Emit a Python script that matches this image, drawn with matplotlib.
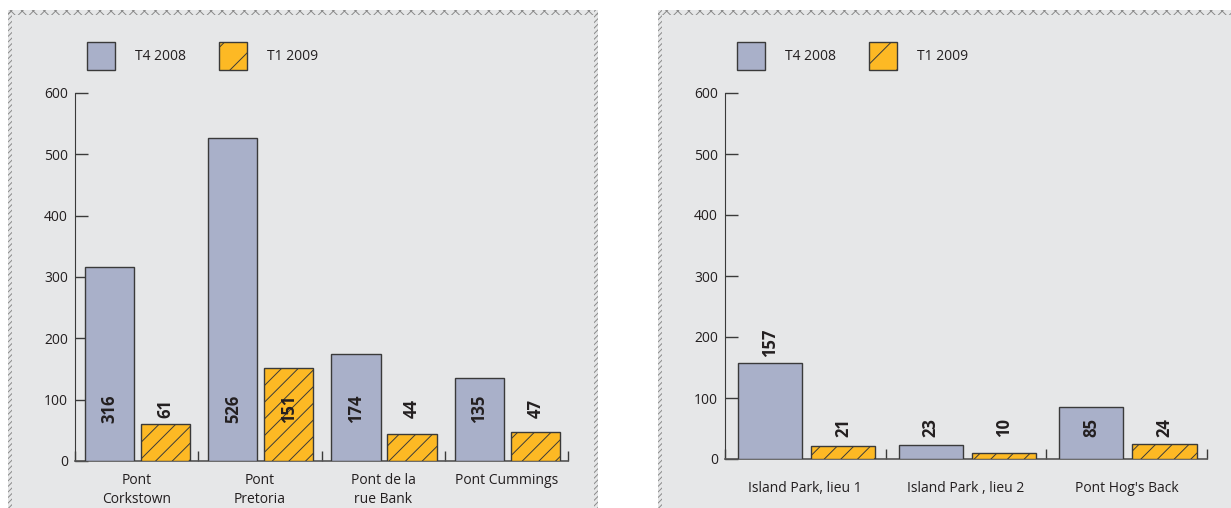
import numpy as np
import matplotlib.pyplot as plt
from matplotlib.patches import Rectangle, Patch

plt.rcParams['font.family'] = ['Open Sans', 'DejaVu Sans']
plt.rcParams['hatch.linewidth'] = 0.7

# data
cats_left = ['Pont\nCorkstown', 'Pont\nPretoria', 'Pont de la\nrue Bank', 'Pont Cummings']
t4_left = [316, 526, 174, 135]
t1_left = [61, 151, 44, 47]

cats_right = ['Island Park, lieu 1', 'Island Park , lieu 2', "Pont Hog's Back"]
t4_right = [157, 23, 85]
t1_right = [21, 10, 24]

series_names = ['T4 2008', 'T1 2009']

GRAY = '#a9b0c9'
ORANGE = '#fdb924'
BG = '#e6e7e8'
TXT = '#231f20'
EDGE = '#3a3a3a'

W, H = 1231, 508
fig = plt.figure(figsize=(W / 100, H / 100), dpi=100)


def fx(px):
    return px / W


def fy(py):
    return 1 - py / H


def panel(x0, x1):
    fig.patches.append(Rectangle((fx(x0), 0), fx(x1 - x0), fy(10),
                                 transform=fig.transFigure, facecolor=BG,
                                 edgecolor='none', zorder=0))
    # hatched border strips
    for (x, y, w, h, hatch) in [(x0, 0, 4, fy(10) * H, '//////'),
                                (x1 - 4, 0, 4, fy(10) * H, '//////'),
                                (x0, fy(10) * H - 5, x1 - x0, 5, 'xxx')]:
        fig.patches.append(Rectangle((fx(x), y / H), fx(w), h / H,
                                     transform=fig.transFigure, facecolor='none',
                                     edgecolor='#8a8a8a', hatch=hatch, lw=0,
                                     zorder=1))


def draw(rect, cats, t4, t1, label_y, above_thresh=None, xpad=9):
    ax = fig.add_axes(rect)
    ax.set_zorder(5)
    ax.set_facecolor('none')
    x = np.arange(len(cats))
    ax.bar(x - 0.22, t4, width=0.4, color=GRAY, edgecolor=EDGE, lw=1.0, zorder=3)
    ax.bar(x + 0.235, t1, width=0.4, color=ORANGE, edgecolor=EDGE, lw=1.0,
           hatch='//', zorder=3)
    for xs, vals in [(x - 0.22, t4), (x + 0.235, t1)]:
        for xi, v in zip(xs, vals):
            if above_thresh is not None and v > above_thresh:
                ax.text(xi, v + 10, str(v), rotation=90, ha='center', va='bottom',
                        fontsize=12, fontweight='bold', color=TXT, zorder=4)
            else:
                ax.text(xi, label_y, str(v), rotation=90, ha='center', va='center',
                        fontsize=12, fontweight='bold', color=TXT, zorder=4)
    ax.set_xlim(-0.5, len(cats) - 0.5)
    ax.set_ylim(0, 600)
    ax.set_yticks(range(0, 601, 100))
    ax.set_xticks(x)
    ax.set_xticklabels(cats, fontsize=10, color=TXT, linespacing=1.35)
    ax.set_xticks(np.arange(len(cats) + 1) - 0.5, minor=True)
    ax.tick_params(axis='x', which='major', length=0, pad=xpad)
    ax.tick_params(axis='x', which='minor', direction='in', length=7,
                   color=EDGE, width=1)
    ax.tick_params(axis='y', direction='in', length=9, width=1, color=EDGE,
                   labelsize=10, labelcolor=TXT, pad=5)
    for s in ['top', 'right']:
        ax.spines[s].set_visible(False)
    ax.spines['left'].set_color(EDGE)
    ax.spines['bottom'].set_color('#555555')
    ax.spines['bottom'].set_linewidth(1.2)
    handles = [Patch(facecolor=GRAY, edgecolor=EDGE, lw=1.0),
               Patch(facecolor=ORANGE, edgecolor=EDGE, lw=1.0, hatch='/')]
    return ax, handles


panel(8, 598)
panel(658, 1235)

ax1, h = draw([fx(75), fy(461), fx(493), 368 / H], cats_left, t4_left, t1_left, 85)
ax2, _ = draw([fx(725), fy(459), fx(482), 366 / H], cats_right, t4_right, t1_right,
              51, above_thresh=100, xpad=16)

for x0 in (87, 737):
    leg = fig.legend(h, series_names, loc='upper left',
                     bbox_to_anchor=(fx(x0), fy(42)), ncol=2, frameon=False,
                     borderpad=0, borderaxespad=0, handlelength=2.0, handleheight=2.7,
                     handletextpad=1.45, columnspacing=2.4, fontsize=10,
                     labelcolor=TXT)
    leg.set_zorder(6)

fig.savefig('out.png', dpi=100)
